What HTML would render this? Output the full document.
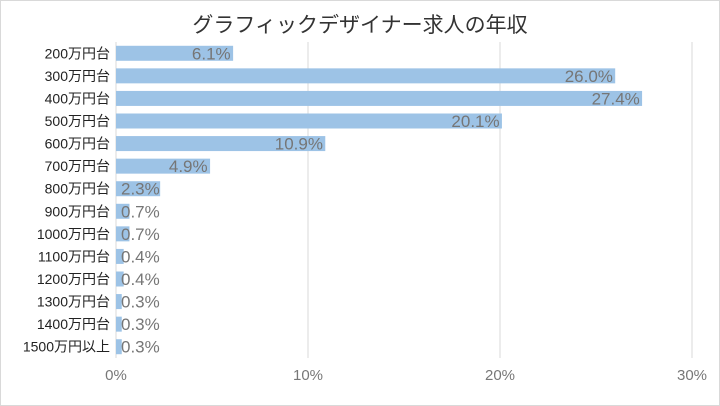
<!DOCTYPE html>
<html><head><meta charset="utf-8"><style>
body{margin:0;background:#fff}
svg{display:block;font-family:"Liberation Sans","Noto Sans CJK JP",sans-serif}
</style></head><body>
<svg id="c" width="720" height="406">
<rect x="0.5" y="0.5" width="719" height="405" fill="#fff" stroke="#d9d9d9"/>
<text x="360" y="32" text-anchor="middle" font-size="21" fill="#333">グラフィックデザイナー求人の年収</text>
<g id="grid"></g><g id="bars"></g><g id="labels"></g>
</svg>
<script>
const categories=["200万円台","300万円台","400万円台","500万円台","600万円台","700万円台","800万円台","900万円台","1000万円台","1100万円台","1200万円台","1300万円台","1400万円台","1500万円以上"];
const values=[6.1,26.0,27.4,20.1,10.9,4.9,2.3,0.7,0.7,0.4,0.4,0.3,0.3,0.3];
const ticks=[0,10,20,30];
const NS="http://www.w3.org/2000/svg";
const x0=116,x1=692,xmax=30,top0=42,bottom0=358;
const xs=v=>x0+(v/xmax)*(x1-x0);
const rowH=(bottom0-top0)/categories.length;
const yc=i=>top0+rowH*(i+0.5);
function mk(t,a,p){const e=document.createElementNS(NS,t);for(const k in a)e.setAttribute(k,a[k]);p.appendChild(e);return e;}
const grid=document.getElementById('grid'),bars=document.getElementById('bars'),labels=document.getElementById('labels');
ticks.forEach(t=>{
 const l=mk('line',{x1:xs(t),x2:xs(t),y1:top0,y2:bottom0,stroke:'#d9d9d9'},grid);
 
 
 const tx=mk('text',{x:xs(t),y:380,'text-anchor':'middle','font-size':15,fill:'#777'},grid);
 tx.textContent=t+'%';
 
 
});
categories.forEach((c,i)=>{
 const y=yc(i);
 const r=mk('rect',{x:xs(0),y:y-7.5,width:xs(values[i])-xs(0),height:15,fill:'#9dc3e6'},bars);
 
 
 const cl=mk('text',{x:110,y:y+5,'text-anchor':'end','font-size':14,fill:'#222'},labels);
 cl.textContent=c;
 
 
 const vt=values[i].toFixed(1)+'%';
 const w=vt.length*9.3;
 const lx=Math.max(xs(values[i])-4-w,121);
 const vl=mk('text',{x:lx,y:y+6,'font-size':17,fill:'#767676'},labels);
 vl.textContent=vt;
 
 
});
</script>
</body></html>
